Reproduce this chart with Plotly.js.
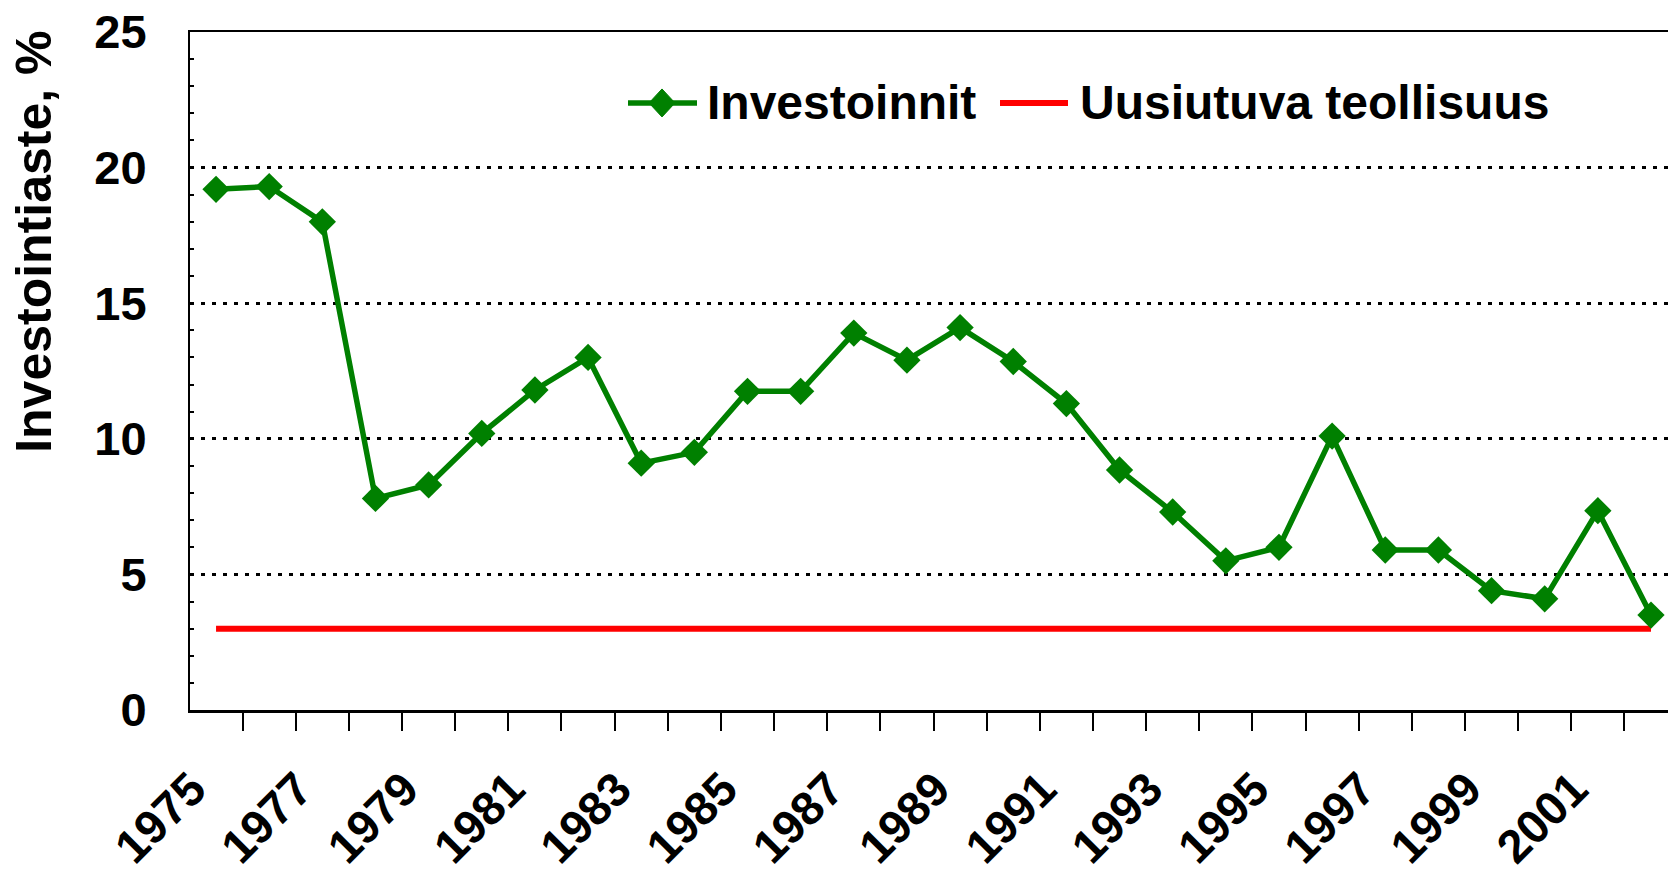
<!DOCTYPE html>
<html>
<head>
<meta charset="utf-8">
<script src="https://cdn.plot.ly/plotly-3.0.1.min.js"></script>
<style>
html, body { margin: 0; padding: 0; overflow: hidden; background: #fff; }
#chart { width: 1668px; height: 876px; }
</style>
</head>
<body>
<div id="chart"></div>
<script>
// ---- Data ----
const years = [1975, 1976, 1977, 1978, 1979, 1980, 1981, 1982, 1983, 1984,
               1985, 1986, 1987, 1988, 1989, 1990, 1991, 1992, 1993, 1994,
               1995, 1996, 1997, 1998, 1999, 2000, 2001, 2002];
const investoinnit = [19.2, 19.3, 18.0, 7.8, 8.3, 10.2, 11.8, 13.0, 9.1, 9.5,
                      11.75, 11.75, 13.9, 12.9, 14.1, 12.85, 11.3, 8.85, 7.3, 5.5,
                      6.0, 10.1, 5.9, 5.9, 4.4, 4.1, 7.35, 3.5];
const uusiutuva = [3.0, 3.0, 3.0, 3.0, 3.0, 3.0, 3.0, 3.0, 3.0, 3.0,
                   3.0, 3.0, 3.0, 3.0, 3.0, 3.0, 3.0, 3.0, 3.0, 3.0,
                   3.0, 3.0, 3.0, 3.0, 3.0, 3.0, 3.0, 3.0];
const tickYears = [1975, 1977, 1979, 1981, 1983, 1985, 1987, 1989, 1991, 1993, 1995, 1997, 1999, 2001];
const tickLabels = ["1975", "1977", "1979", "1981", "1983", "1985", "1987", "1989", "1991", "1993", "1995", "1997", "1999", "2001"];
const seriesNames = ["Investoinnit", "Uusiutuva teollisuus"];
const yTitle = "Investointiaste, %";

// ---- Layout geometry ----
const W = 1668, H = 876;
const M = { l: 190, r: 0, t: 32, b: 165.5 };
const PW = W - M.l - M.r, PH = H - M.t - M.b;
const px = x => (x - M.l) / PW;          // pixel -> paper x
const py = y => (H - M.b - y) / PH;      // pixel -> paper y

const FONT = "Liberation Sans, Arial, Helvetica, sans-serif";
const GREEN = "#008000", RED = "#FF0000";
const LABEL_SHIFT = 0.45; // rotated labels sit slightly left of their category

const traces = [
  {
    x: years, y: uusiutuva, name: seriesNames[1], type: "scatter", mode: "lines",
    line: { color: RED, width: 6 }, showlegend: false
  },
  {
    x: years, y: investoinnit, name: seriesNames[0], type: "scatter", mode: "lines+markers",
    line: { color: GREEN, width: 5.5 },
    marker: { symbol: "diamond", size: 21, color: GREEN },
    showlegend: false
  }
];

const legY = 103;
const layout = {
  width: W, height: H,
  margin: M,
  paper_bgcolor: "#fff", plot_bgcolor: "#fff",
  showlegend: false,
  font: { family: FONT, color: "#000", weight: "bold" },
  xaxis: {
    range: [1974.51, 2002.32],
    tickmode: "array", tickvals: tickYears.map(v => v - LABEL_SHIFT), ticktext: tickLabels,
    tickangle: -45,
    tickfont: { family: FONT, size: 47, weight: "bold", color: "#000" },
    ticks: "", ticklabelstandoff: 30,
    showgrid: false, zeroline: false,
    showline: true, linecolor: "#000", linewidth: 2.5, mirror: true,
    minor: { tick0: 1974.5, dtick: 1, ticks: "outside", ticklen: 18, tickwidth: 2, tickcolor: "#000", showgrid: false }
  },
  yaxis: {
    range: [0, 25], dtick: 5, tick0: 0,
    tickfont: { family: FONT, size: 47, weight: "bold", color: "#000" },
    ticks: "", ticklabelstandoff: 32,
    showgrid: true, gridcolor: "#000", gridwidth: 3, griddash: "4px,7px",
    zeroline: false,
    showline: true, linecolor: "#000", linewidth: 2,
    minor: { dtick: 1, ticks: "inside", ticklen: 4, tickwidth: 2, tickcolor: "#000", showgrid: false }
  },
  shapes: [
    // legend symbols
    { type: "line", xref: "paper", yref: "paper", x0: px(628), x1: px(697), y0: py(legY), y1: py(legY),
      line: { color: GREEN, width: 5.5 } },
    { type: "path", xref: "paper", yref: "paper", xsizemode: "pixel", ysizemode: "pixel",
      xanchor: px(662), yanchor: py(legY), path: "M-13,0 L0,14 L13,0 L0,-14 Z",
      fillcolor: GREEN, line: { color: GREEN, width: 1 } },
    { type: "line", xref: "paper", yref: "paper", x0: px(1000), x1: px(1068), y0: py(legY), y1: py(legY),
      line: { color: RED, width: 6 } }
  ],
  annotations: [
    { xref: "paper", yref: "paper", x: px(705), y: py(legY), xanchor: "left", yanchor: "middle",
      text: seriesNames[0], showarrow: false,
      font: { family: FONT, size: 48, weight: "bold", color: "#000" } },
    { xref: "paper", yref: "paper", x: px(1078), y: py(legY), xanchor: "left", yanchor: "middle",
      text: seriesNames[1], showarrow: false,
      font: { family: FONT, size: 48, weight: "bold", color: "#000" } },
    { xref: "paper", yref: "paper", x: px(34), y: py(242), xanchor: "center", yanchor: "middle",
      text: yTitle, textangle: -90, showarrow: false,
      font: { family: FONT, size: 50, weight: "bold", color: "#000" } }
  ]
};

Plotly.newPlot("chart", traces, layout, { displayModeBar: false, staticPlot: true });
</script>
</body>
</html>
